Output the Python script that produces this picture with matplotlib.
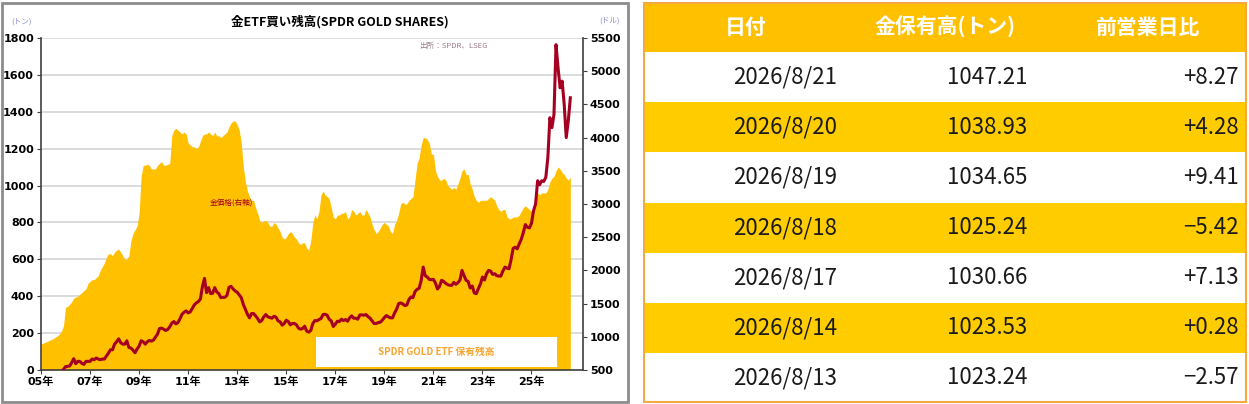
import numpy as np
import matplotlib
matplotlib.use('Agg')
import matplotlib.pyplot as plt
from matplotlib.patches import Rectangle

plt.rcParams['font.family'] = ['Noto Sans CJK JP', 'DejaVu Sans']

# SPDR gold holdings (tons), monthly Jan 2005 - Aug 2026
holdings = [
    140, 145, 150, 155, 160, 165, 170, 178, 185, 195, 210, 240,   # 2005
    340, 345, 355, 370, 390, 395, 400, 410, 420, 430, 440, 470,   # 2006
    480, 490, 490, 500, 510, 540, 560, 580, 610, 630, 630, 620,   # 2007
    640, 650, 655, 640, 620, 600, 600, 620, 700, 740, 760, 780,   # 2008
    850, 1050, 1110, 1110, 1115, 1110, 1090, 1090, 1090, 1110, 1120, 1130,  # 2009
    1110, 1110, 1115, 1120, 1270, 1300, 1310, 1300, 1290, 1280, 1290, 1280,  # 2010
    1230, 1220, 1210, 1210, 1200, 1210, 1240, 1270, 1280, 1280, 1290, 1280,  # 2011
    1270, 1290, 1270, 1270, 1260, 1270, 1280, 1290, 1320, 1340, 1350, 1350,  # 2012
    1330, 1300, 1230, 1100, 1020, 970, 940, 920, 920, 880, 850, 810,  # 2013
    800, 810, 810, 800, 780, 780, 800, 790, 770, 750, 720, 710,   # 2014
    720, 740, 750, 740, 720, 710, 690, 680, 690, 690, 660, 650,   # 2015
    700, 800, 840, 820, 860, 950, 970, 950, 940, 930, 880, 830,   # 2016
    820, 840, 840, 850, 850, 860, 820, 830, 870, 860, 840, 850,   # 2017
    860, 840, 840, 870, 850, 830, 790, 760, 740, 750, 770, 790,   # 2018
    800, 790, 780, 750, 740, 790, 810, 850, 900, 910, 900, 900,   # 2019
    920, 930, 940, 1030, 1120, 1150, 1220, 1260, 1260, 1250, 1230, 1170,  # 2020
    1170, 1080, 1050, 1030, 1030, 1040, 1030, 1000, 990, 980, 990, 980,   # 2021
    1010, 1040, 1080, 1090, 1060, 1060, 1010, 980, 940, 920, 910, 920,    # 2022
    920, 920, 920, 930, 940, 930, 920, 890, 870, 860, 870, 870,   # 2023
    830, 820, 820, 830, 830, 830, 840, 860, 880, 890, 880, 870,   # 2024
    860, 880, 920, 960, 950, 960, 960, 960, 980, 1020, 1040, 1050,  # 2025
    1080, 1100, 1090, 1070, 1060, 1040, 1030, 1045,              # 2026
]

# gold price (USD), monthly Jan 2005 - Aug 2026
gold = [
    425, 410, 430, 425, 420, 430, 425, 440, 460, 470, 475, 510,
    550, 555, 560, 610, 670, 595, 630, 630, 600, 585, 630, 630,
    630, 665, 655, 680, 665, 655, 665, 665, 710, 755, 805, 805,
    890, 925, 970, 910, 890, 890, 940, 840, 830, 800, 760, 815,
    860, 940, 925, 890, 925, 945, 935, 950, 995, 1040, 1125, 1130,
    1115, 1095, 1110, 1150, 1205, 1230, 1195, 1215, 1270, 1340, 1370, 1390,
    1360, 1375, 1425, 1480, 1510, 1530, 1570, 1760, 1880, 1665, 1740, 1650,
    1655, 1740, 1675, 1650, 1590, 1595, 1595, 1625, 1745, 1760, 1720, 1690,
    1670, 1630, 1590, 1485, 1415, 1340, 1285, 1350, 1350, 1315, 1275, 1225,
    1245, 1300, 1335, 1300, 1290, 1280, 1310, 1295, 1240, 1225, 1175, 1200,
    1250, 1230, 1180, 1200, 1200, 1180, 1130, 1115, 1125, 1160, 1085, 1070,
    1095, 1200, 1245, 1240, 1260, 1275, 1335, 1340, 1325, 1265, 1240, 1155,
    1190, 1235, 1230, 1265, 1245, 1260, 1235, 1285, 1315, 1280, 1280, 1265,
    1330, 1330, 1325, 1335, 1305, 1280, 1240, 1200, 1200, 1215, 1220, 1250,
    1290, 1320, 1300, 1285, 1285, 1360, 1415, 1500, 1510, 1495, 1470, 1480,
    1560, 1600, 1590, 1680, 1715, 1730, 1845, 2050, 1920, 1900, 1865, 1860,
    1865, 1810, 1720, 1760, 1850, 1835, 1805, 1785, 1775, 1775, 1820, 1790,
    1815, 1855, 2000, 1920, 1850, 1835, 1735, 1765, 1660, 1650, 1725, 1795,
    1900, 1855, 1950, 2000, 1990, 1940, 1950, 1920, 1915, 1915, 1990, 2050,
    2035, 2025, 2160, 2330, 2350, 2325, 2400, 2470, 2570, 2690, 2650, 2640,
    2710, 2900, 3000, 3350, 3290, 3350, 3340, 3400, 3700, 4300, 4150, 4350,
    5400, 5050, 4750, 4850, 4500, 4000, 4250, 4600,
]

year_ticks = [2005, 2007, 2009, 2011, 2013, 2015, 2017, 2019, 2021, 2023, 2025]
year_labels = ['05年', '07年', '09年', '11年', '13年', '15年', '17年', '19年', '21年', '23年', '25年']

# table data
dates = ['2026/8/21', '2026/8/20', '2026/8/19', '2026/8/18', '2026/8/17', '2026/8/14', '2026/8/13']
tons = ['1047.21', '1038.93', '1034.65', '1025.24', '1030.66', '1023.53', '1023.24']
changes = ['+8.27', '+4.28', '+9.41', '−5.42', '+7.13', '+0.28', '−2.57']
headers = ['日付', '金保有高(トン)', '前営業日比']

x = 2005 + np.arange(len(holdings)) / 12

W, H = 1249, 404
fig = plt.figure(figsize=(W / 100, H / 100), dpi=100)

# chart frame
fig.patches.append(Rectangle((2 / W, 2 / H), 626 / W, 399 / H, transform=fig.transFigure,
                             fill=False, edgecolor='#8c8c8c', linewidth=2))

ax = fig.add_axes([41 / W, 34 / H, 542 / W, 332 / H])
ax.fill_between(x, holdings, color='#FFC000', linewidth=0, zorder=2)
ax.set_ylim(0, 1800)
ax.set_yticks(range(0, 1801, 200))
ax.set_xlim(2005, 2027.1)
ax.set_xticks(year_ticks)
ax.set_xticklabels(year_labels)
ax.grid(axis='y', color='#d9d9d9', linewidth=1.3, zorder=0)
ax.set_axisbelow(True)
for s in ['top', 'right']:
    ax.spines[s].set_visible(False)
for s in ['left', 'bottom']:
    ax.spines[s].set_color('#404040')
    ax.spines[s].set_linewidth(1.2)
ax.tick_params(axis='both', labelsize=8, length=3, color='#404040', pad=2)
for lab in ax.get_xticklabels() + ax.get_yticklabels():
    lab.set_fontweight('bold')
    lab.set_family(['DejaVu Sans', 'Noto Sans CJK JP'])

ax.text(0.352, 0.503, '金価格(右軸)', transform=ax.transAxes, fontsize=5.5,
        color='#A50021', ha='center', va='center', zorder=5)
ax.text(0.76, 0.975, '出所：SPDR、LSEG', transform=ax.transAxes, fontsize=5.5,
        color='#9a7a8a', ha='center', va='center')

ax2 = ax.twinx()
ax2.plot(x, gold, color='#A50021', linewidth=2.2)
ax2.set_ylim(500, 5500)
ax2.set_yticks(range(500, 5501, 500))
for s in ['top', 'left', 'bottom']:
    ax2.spines[s].set_visible(False)
ax2.spines['right'].set_color('#404040')
ax2.spines['right'].set_linewidth(1.2)
ax2.tick_params(axis='y', labelsize=8, length=3, color='#404040', pad=2)
for lab in ax2.get_yticklabels():
    lab.set_fontweight('bold')
    lab.set_family(['DejaVu Sans'])

ax2.add_patch(Rectangle((0.507, 0.009), 0.445, 0.09, transform=ax2.transAxes,
                        facecolor='white', edgecolor='none', zorder=4))
ax2.text(0.73, 0.054, 'SPDR GOLD ETF 保有残高', transform=ax2.transAxes, fontsize=7,
         color='#F7A530', ha='center', va='center', fontweight='bold', zorder=5)

fig.text(340 / W, 1 - 22 / H, '金ETF買い残高(SPDR GOLD SHARES)', fontsize=9,
         fontweight='bold', ha='center', va='center')
fig.text(22 / W, 1 - 22 / H, '(トン)', fontsize=5.5, color='#8a8ad0', ha='center', va='center')
fig.text(610 / W, 1 - 21 / H, '(ドル)', fontsize=5.5, color='#8a8ad0', ha='center', va='center')

# table panel
tx = fig.add_axes([643 / W, 1 / H, 604 / W, 401 / H])
tx.set_xlim(643, 1247)
tx.set_ylim(8, 0)
tx.axis('off')
tx.add_patch(Rectangle((643, 0), 604, 1, facecolor='#FFC000', edgecolor='none'))
hx = [746, 945, 1147]
for hxx, h in zip(hx, headers):
    tx.text(hxx, 0.5, h, color='white', fontsize=15, fontweight='bold', ha='center', va='center')
for i in range(len(dates)):
    row = i + 1
    fc = '#FFCC00' if i % 2 == 1 else 'white'
    tx.add_patch(Rectangle((643, row), 604, 1, facecolor=fc, edgecolor='none'))
    tx.text(785, row + 0.5, dates[i], fontsize=16, ha='center', va='center', color='#1a1a1a')
    tx.text(987, row + 0.5, tons[i], fontsize=16, ha='center', va='center', color='#1a1a1a')
    tx.text(1239, row + 0.5, changes[i], fontsize=16, ha='right', va='center', color='#1a1a1a')
tx.add_patch(Rectangle((644, 0.02), 602, 7.96, fill=False, edgecolor='#F4A940', linewidth=1.5))

fig.savefig('out.png', dpi=100)
